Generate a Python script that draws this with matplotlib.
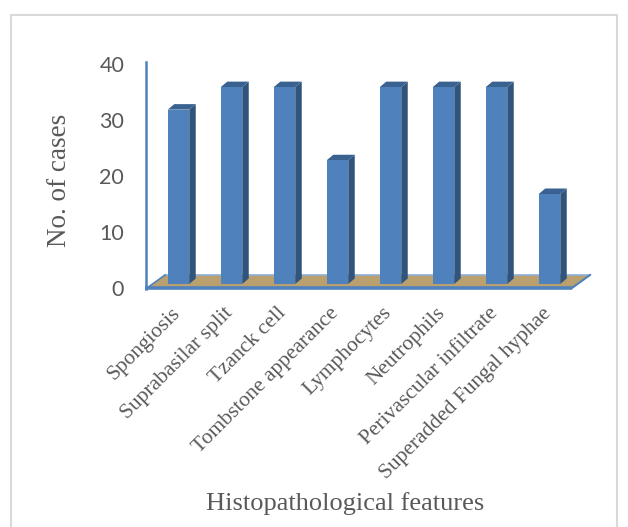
import matplotlib
matplotlib.use("Agg")
import matplotlib.pyplot as plt
from matplotlib.patches import Polygon, Rectangle
from matplotlib.transforms import ScaledTranslation

categories = ["Spongiosis", "Suprabasilar split", "Tzanck cell", "Tombstone appearance",
              "Lymphocytes", "Neutrophils", "Perivascular infiltrate", "Superadded Fungal hyphae"]
cases = [31, 35, 35, 22, 35, 35, 35, 16]
y_ticks = [0, 10, 20, 30, 40]

W, H = 628, 527
fig = plt.figure(figsize=(W / 100, H / 100), dpi=100, facecolor="white")
frame = Rectangle((11 / W, -0.01), (617 - 11) / W, 1.01 - 15 / H, transform=fig.transFigure,
                  fill=False, ec="#d9d9d9", lw=1.5)
fig.add_artist(frame)

# plot box: x data unit 53 px, y data unit 5.625 px, value 0 at pixel row 288
left, right, top, bottom = 145, 590, 63, 288
ax = fig.add_axes([left / W, 1 - bottom / H, (right - left) / W, (bottom - top) / H])
ax.set_xlim((left - 178.5) / 53, (right - 178.5) / 53)
ax.set_ylim(0, 40)
ax.patch.set_visible(False)
for s in ax.spines.values():
    s.set_visible(False)

px_x, px_y = 1 / 53, 1 / 5.625
BLUE, SIDE, TOP = "#4f81bd", "#31547c", "#3a6291"
bw = 21.5 * px_x
dx, dy = 6.5 * px_x, 5.5 * px_y
lift = 4 * px_y  # bars stand slightly forward on the floor

# floor
x0, x1 = ax.get_xlim()
fx0, fx1 = x0 + 2 * px_x, x1 - 18 * px_x
depth_x = 18 * px_x
depth_y = 13 * px_y
ax.add_patch(Polygon([(fx0, 0), (fx1, 0), (fx1 + depth_x, depth_y), (fx0 + depth_x, depth_y)],
                     closed=True, fc="#b9a06e", ec="none", zorder=1, clip_on=False))
ax.plot([fx0 + depth_x, fx1 + depth_x], [depth_y, depth_y], color="#8fafd6", lw=1.2, zorder=1.5, clip_on=False)
ax.plot([fx0 + depth_x, fx0], [depth_y, 0], color=BLUE, lw=1.2, zorder=1.5, clip_on=False)
ax.plot([fx1, fx1 + depth_x], [0, depth_y], color=BLUE, lw=1.5, zorder=1.5, clip_on=False)
ax.plot([fx0 - 2 * px_x, fx1], [0, 0], color=BLUE, lw=2.6, zorder=2, clip_on=False, solid_capstyle="butt")
ax.plot([x0 + 1 * px_x] * 2, [-0.2, 40.2], color=BLUE, lw=1.8, zorder=2, clip_on=False)

# bars
for i, v in enumerate(cases):
    l, r = i - bw / 2, i + bw / 2
    b, t = lift, lift + v
    ax.add_patch(Polygon([(r, b), (r + dx, b + dy), (r + dx, t + dy), (r, t)], closed=True,
                         fc=SIDE, ec="none", zorder=3))
    ax.add_patch(Polygon([(l, t), (r, t), (r + dx, t + dy), (l + dx, t + dy)], closed=True,
                         fc=TOP, ec="none", zorder=3))
ax.bar(range(len(cases)), cases, width=bw, bottom=lift, color=BLUE, edgecolor="none", zorder=4)

ax.set_yticks(y_ticks)
ax.set_xticks(range(len(categories)))
ax.tick_params(axis="both", length=0)
ax.tick_params(axis="y", pad=15)
ax.set_yticklabels(y_ticks, fontfamily="Lato", fontsize=15.5, color="#595959")
ytick_offset = ScaledTranslation(0, -0.5 / 100, fig.dpi_scale_trans)
for lab in ax.get_yticklabels():
    lab.set_transform(lab.get_transform() + ytick_offset)
ax.set_xticklabels(categories, rotation=45, ha="right", va="top", rotation_mode="anchor",
                   fontfamily="Liberation Serif", fontsize=15.5, color="#595959")
offset = ScaledTranslation(-8 / 100, -11 / 100, fig.dpi_scale_trans)
for lab in ax.get_xticklabels():
    lab.set_transform(lab.get_transform() + offset)

fig.text(60 / W, 1 - 180 / H, "No. of cases", rotation=90, ha="center", va="center",
         fontfamily="Liberation Serif", fontsize=19.5, color="#595959")
fig.text(345 / W, 1 - 504 / H, "Histopathological features", ha="center", va="center",
         fontfamily="Liberation Serif", fontsize=19, color="#595959")
fig.savefig("out.png", dpi=100)
